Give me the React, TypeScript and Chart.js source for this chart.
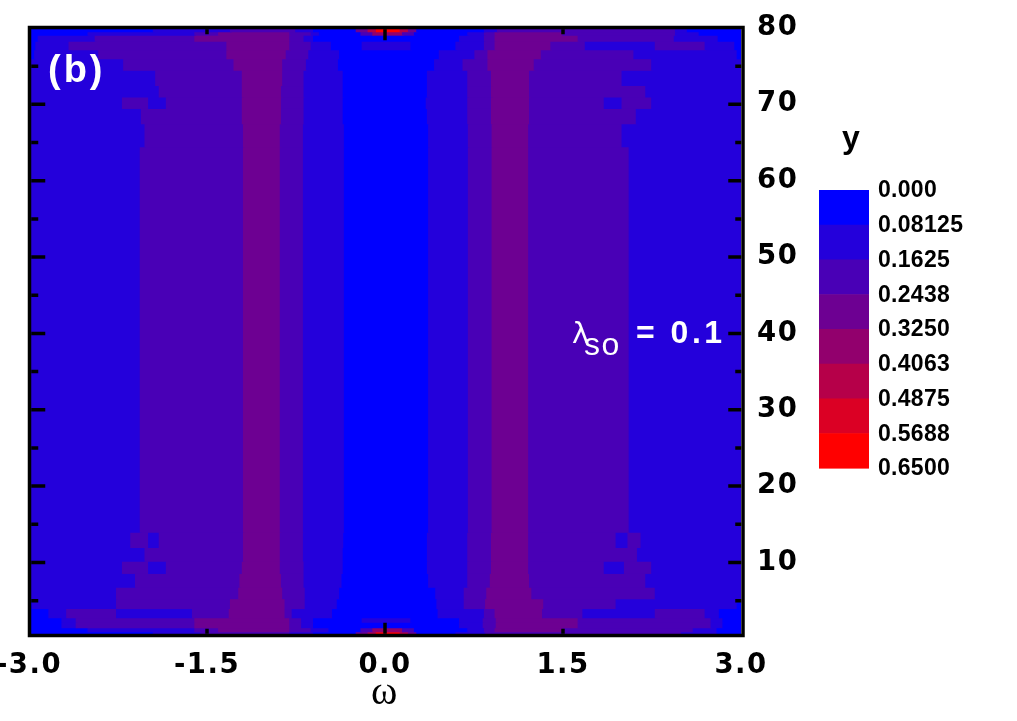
import React, { useEffect, useRef } from 'react';
import { Chart, registerables } from 'chart.js';

Chart.register(...registerables);

// ---------------- data ----------------
const xRange = [-3, 3];
const yRange = [0.5, 80];
const xTickValues = [-3, -1.5, 0, 1.5, 3];
const yTickValues = [10, 20, 30, 40, 50, 60, 70, 80];
const yMinorTickValues = [5, 15, 25, 35, 45, 55, 65, 75];
const xMajorMarks = [0];
const xMinorMarks = [-1.5, 1.5];

const levelColors = ['#0000ff', '#2400db', '#4900b6', '#6d0092', '#92006d', '#b60049', '#db0024', '#ff0000'];
const levelLabels = ['0.000', '0.08125', '0.1625', '0.2438', '0.3250', '0.4063', '0.4875', '0.5688', '0.6500'];

// contour rows (y range of each row) and, per row, the omega break points and level index of each segment
const rowLow = [79.55, 79.1, 78.3, 77.2, 76.0, 74.5, 72.5, 71.0, 69.5, 67.5, 64.5, 14.0, 12.0, 10.2, 8.6, 6.8, 5.3, 4.0, 2.8, 2.2, 1.5, 0.95, 0.3];
const rowHigh = [80.3, 79.55, 79.1, 78.3, 77.2, 76.0, 74.5, 72.5, 71.0, 69.5, 67.5, 64.5, 14.0, 12.0, 10.2, 8.6, 6.8, 5.3, 4.0, 2.8, 2.2, 1.5, 0.95];

const rowBreaks = [
  [-3, -1.95, -1.3, -0.75, -0.6, -0.24, -0.14, -0.07, 0.13, 0.2, 0.27, 0.84, 0.95, 2.45, 2.55, 3],
  [-3, -2.5, -1.6, -1.4, -0.8, -0.62, -0.55, -0.2, -0.1, 0.15, 0.25, 0.7, 0.84, 0.93, 1.5, 2.45, 2.65, 3],
  [-3, -2.92, -2.44, -1.6, -0.8, -0.68, -0.6, 0.63, 0.84, 0.93, 1.63, 2.44, 2.81, 3],
  [-3, -2.94, -2.66, -1.33, -0.8, -0.62, -0.45, -0.19, 0.22, 0.6, 0.84, 0.93, 1.4, 1.69, 2.28, 2.7, 2.95, 3],
  [-3, -2.95, -2.41, -1.33, -0.83, -0.64, -0.38, 0.46, 0.76, 0.87, 1.32, 2.1, 2.97, 3],
  [-3, -2.2, -1.27, -0.86, -0.66, -0.39, 0.42, 0.66, 0.87, 1.26, 2.25, 3],
  [-3, -1.93, -1.2, -0.86, -0.68, -0.35, 0.36, 0.7, 0.9, 1.22, 2.0, 3],
  [-3, -1.9, -1.2, -0.87, -0.68, -0.35, 0.36, 0.7, 0.9, 1.22, 2.2, 3],
  [-3, -2.21, -1.99, -1.84, -1.2, -0.87, -0.68, -0.35, 0.35, 0.7, 0.9, 1.22, 1.85, 2.0, 2.25, 3],
  [-3, -2.05, -1.2, -0.87, -0.68, -0.35, 0.36, 0.7, 0.9, 1.22, 2.12, 3],
  [-3, -2.02, -1.19, -0.88, -0.685, -0.34, 0.37, 0.705, 0.905, 1.213, 2.0, 3],
  [-3, -2.06, -1.19, -0.88, -0.685, -0.34, 0.37, 0.705, 0.905, 1.213, 2.06, 3],
  [-3, -2.14, -1.99, -1.9, -1.19, -0.88, -0.685, -0.345, 0.36, 0.7, 0.9, 1.213, 1.95, 2.05, 2.16, 3],
  [-3, -2.02, -1.19, -0.88, -0.685, -0.35, 0.36, 0.7, 0.9, 1.213, 2.13, 3],
  [-3, -2.21, -1.99, -1.84, -1.2, -0.88, -0.68, -0.35, 0.36, 0.7, 0.9, 1.213, 1.85, 2.02, 2.25, 3],
  [-3, -2.1, -1.22, -0.87, -0.68, -0.36, 0.37, 0.7, 0.89, 1.22, 2.2, 3],
  [-3, -2.26, -1.23, -0.86, -0.67, -0.38, 0.43, 0.67, 0.86, 1.24, 2.28, 3],
  [-3, -2.97, -2.26, -1.3, -0.84, -0.67, -0.4, 0.44, 0.67, 0.85, 1.34, 1.95, 2.97, 3],
  [-3, -2.83, -2.68, -2.26, -1.62, -1.31, -0.84, -0.78, -0.44, 0.45, 0.84, 0.93, 1.33, 1.67, 2.28, 2.7, 2.82, 3],
  [-3, -2.72, -2.6, -1.6, -0.8, -0.7, -0.6, -0.19, 0.22, 0.63, 0.83, 0.94, 1.63, 2.75, 2.85, 3],
  [-3, -2.72, -2.6, -1.6, -0.8, -0.7, -0.6, 0.63, 0.83, 0.94, 1.63, 2.75, 2.85, 3],
  [-3, -2.5, -1.6, -1.4, -0.8, -0.62, -0.47, -0.2, -0.1, 0.15, 0.25, 0.7, 0.84, 0.93, 1.5, 2.6, 2.8, 3],
  [-3, -1.95, -1.55, -0.8, -0.6, -0.24, -0.14, -0.07, 0.13, 0.2, 0.27, 0.6, 0.85, 2.5, 2.8, 3],
];

const rowLevels = [
  [0, 1, 2, 1, 0, 3, 5, 7, 5, 3, 0, 1, 2, 1, 0],
  [0, 1, 2, 3, 2, 1, 0, 2, 4, 2, 0, 1, 2, 3, 2, 1, 0],
  [0, 1, 2, 3, 2, 1, 0, 1, 2, 3, 2, 1, 0],
  [0, 1, 2, 3, 2, 1, 0, 1, 0, 1, 2, 3, 2, 1, 2, 1, 0],
  [0, 1, 2, 3, 2, 1, 0, 1, 2, 3, 2, 1, 0],
  [1, 2, 3, 2, 1, 0, 1, 2, 3, 2, 1],
  [1, 2, 3, 2, 1, 0, 1, 2, 3, 2, 1],
  [1, 2, 3, 2, 1, 0, 1, 2, 3, 2, 1],
  [1, 2, 1, 2, 3, 2, 1, 0, 1, 2, 3, 2, 1, 2, 1],
  [1, 2, 3, 2, 1, 0, 1, 2, 3, 2, 1],
  [1, 2, 3, 2, 1, 0, 1, 2, 3, 2, 1],
  [1, 2, 3, 2, 1, 0, 1, 2, 3, 2, 1],
  [1, 2, 1, 2, 3, 2, 1, 0, 1, 2, 3, 2, 1, 2, 1],
  [1, 2, 3, 2, 1, 0, 1, 2, 3, 2, 1],
  [1, 2, 1, 2, 3, 2, 1, 0, 1, 2, 3, 2, 1, 2, 1],
  [1, 2, 3, 2, 1, 0, 1, 2, 3, 2, 1],
  [1, 2, 3, 2, 1, 0, 1, 2, 3, 2, 1],
  [0, 1, 2, 3, 2, 1, 0, 1, 2, 3, 2, 1, 0],
  [0, 1, 2, 1, 2, 3, 2, 1, 0, 1, 2, 3, 2, 1, 2, 1, 0],
  [0, 1, 2, 3, 2, 1, 0, 1, 0, 1, 2, 3, 2, 1, 0],
  [0, 1, 2, 3, 2, 1, 0, 1, 2, 3, 2, 1, 0],
  [0, 1, 2, 3, 2, 1, 0, 2, 4, 2, 0, 1, 2, 3, 2, 1, 0],
  [0, 1, 2, 1, 0, 3, 5, 7, 5, 3, 0, 1, 2, 1, 0],
];

const panelLabel = '(b)';
const paramSymbol = 'λ';
const paramSub = 'so';
const paramValue = '= 0.1';
const legendTitle = 'y';
const xTitle = 'ω';

// ---------------- decorations (frame, inner ticks, colour bar, labels) ----------------
const decorPlugin = {
  id: 'decor',
  beforeDraw(chart: any) {
    chart.ctx.letterSpacing = '1.5px';
  },
  beforeDatasetsDraw(chart: any) {
    chart.ctx.letterSpacing = '0px';
  },
  afterDraw(chart: any) {
    const { ctx, chartArea: a } = chart;
    const xs = chart.scales.x;
    const ys = chart.scales.y;
    ctx.save();
    ctx.letterSpacing = '0px';

    // frame + inward ticks
    const L = a.left + 0.5, R = a.right + 2, T = a.top - 0.5, B = a.bottom + 0.5;
    const hw = 1.75;
    ctx.strokeStyle = '#000';
    ctx.lineWidth = 3.5;
    ctx.beginPath();
    for (const v of yTickValues) {
      if (v >= yRange[1]) continue;
      const p = ys.getPixelForValue(v);
      ctx.moveTo(R - hw, p); ctx.lineTo(R - hw - 13, p);
      ctx.moveTo(L + hw, p); ctx.lineTo(L + hw + 14, p);
    }
    for (const v of yMinorTickValues) {
      const p = ys.getPixelForValue(v);
      ctx.moveTo(R - hw, p); ctx.lineTo(R - hw - 6, p);
      ctx.moveTo(L + hw, p); ctx.lineTo(L + hw + 7, p);
    }
    for (const v of xMajorMarks) {
      const p = xs.getPixelForValue(v);
      ctx.moveTo(p, B - hw); ctx.lineTo(p, B - hw - 11);
      ctx.moveTo(p, T + hw); ctx.lineTo(p, T + hw + 11);
    }
    for (const v of xMinorMarks) {
      const p = xs.getPixelForValue(v);
      ctx.moveTo(p, B - hw); ctx.lineTo(p, B - hw - 5);
      ctx.moveTo(p, T + hw); ctx.lineTo(p, T + hw + 5);
    }
    ctx.stroke();
    ctx.strokeRect(L, T, R - L, B - T);

    // colour bar legend
    const cbX = 819, cbY = 190, cbW = 50, cbH = 278;
    const bh = cbH / levelColors.length;
    levelColors.forEach((c, i) => {
      ctx.fillStyle = c;
      ctx.fillRect(cbX, cbY + i * bh, cbW, bh + 0.6);
    });
    ctx.fillStyle = '#000';
    ctx.textAlign = 'left';
    ctx.textBaseline = 'middle';
    ctx.font = 'bold 23px "Liberation Sans"';
    ctx.letterSpacing = '0.3px';
    levelLabels.forEach((t, i) => ctx.fillText(t, 878, cbY + i * bh + 1));
    ctx.letterSpacing = '0px';
    ctx.textBaseline = 'alphabetic';
    ctx.font = 'bold 32px "Liberation Sans"';
    ctx.fillText(legendTitle, 842, 148);

    // panel label
    ctx.fillStyle = '#fff';
    ctx.font = 'bold 38px "Liberation Sans"';
    ctx.letterSpacing = '3px';
    ctx.fillText(panelLabel, 48, 82);

    // parameter annotation
    ctx.letterSpacing = '0px';
    ctx.font = '29px "DejaVu Sans"';
    ctx.fillText(paramSymbol, 572, 343);
    ctx.font = '32px "Liberation Sans"';
    ctx.letterSpacing = '1.5px';
    ctx.fillText(paramSub, 584, 355);
    ctx.font = 'bold 32px "Liberation Sans"';
    ctx.letterSpacing = '3.5px';
    ctx.fillText(paramValue, 636, 343);

    ctx.restore();
  },
};

export default function App() {
  const ref = useRef<HTMLCanvasElement>(null);

  useEffect(() => {
    const canvas = ref.current;
    if (!canvas) return;

    const transparent = 'rgba(0,0,0,0)';
    const datasets = rowLow.map((lo, r) => {
      const hi = rowHigh[r];
      const mid = (lo + hi) / 2;
      const h = hi - lo;
      const br = rowBreaks[r];
      const lv = rowLevels[r];
      const data: any[] = [];
      const colors: string[] = [];
      for (let k = 0; k < lv.length; k++) {
        // guide points above/below give each floating bar exactly the row's height ('flex' thickness)
        data.push({ y: lo - h / 2, x: null });
        colors.push(transparent);
        data.push({ y: mid, x: [br[k], br[k + 1]] });
        colors.push(levelColors[lv[k]]);
        data.push({ y: hi + h / 2, x: null });
        colors.push(transparent);
      }
      return {
        label: 'row ' + r,
        data,
        backgroundColor: colors,
        borderWidth: 0,
        inflateAmount: 0.8,
        barThickness: 'flex' as const,
        categoryPercentage: 1,
        barPercentage: 1,
        stack: 'contour',
      };
    });

    const tickFont = { family: 'DejaVu Sans', weight: 'bold' as const, size: 27.5 };

    const chart = new Chart(canvas, {
      type: 'bar',
      data: { datasets: datasets as any },
      options: {
        indexAxis: 'y',
        animation: false,
        responsive: false,
        events: [],
        layout: { padding: { left: 29, top: 28, right: 0, bottom: 0 } },
        plugins: { legend: { display: false }, tooltip: { enabled: false } },
        scales: {
          x: {
            type: 'linear',
            min: xRange[0],
            max: xRange[1],
            stacked: false,
            offset: false,
            afterBuildTicks: (s: any) => { s.ticks = xTickValues.map((v) => ({ value: v })); },
            ticks: {
              autoSkip: false,
              maxRotation: 0,
              padding: 14,
              color: '#000',
              font: tickFont,
              callback: (v: any) => Number(v).toFixed(1),
            },
            grid: { display: false, drawTicks: false, offset: false },
            border: { display: false },
            title: {
              display: true,
              text: xTitle,
              color: '#000',
              font: { family: 'Liberation Serif', size: 40 },
              padding: { top: 0, bottom: 4 },
            },
            afterFit: (s: any) => { s.height = 86; s.paddingLeft = 0; s.paddingRight = 0; },
          },
          y: {
            type: 'linear',
            position: 'right',
            min: yRange[0],
            max: yRange[1],
            offset: false,
            afterBuildTicks: (s: any) => { s.ticks = yTickValues.map((v) => ({ value: v })); },
            ticks: {
              autoSkip: false,
              padding: 16,
              color: '#000',
              font: tickFont,
              callback: (v: any) => String(v),
            },
            grid: { display: false, drawTicks: false, offset: false },
            border: { display: false },
            afterFit: (s: any) => { s.width = 276; s.paddingTop = 0; s.paddingBottom = 0; },
          },
        },
      } as any,
      plugins: [decorPlugin],
    });

    return () => chart.destroy();
  }, []);

  return (
    <div style={{ position: 'absolute', left: 0, top: 0, width: 1017, height: 721, background: '#fff' }}>
      <canvas ref={ref} width={1017} height={721} style={{ display: 'block' }} />
    </div>
  );
}
